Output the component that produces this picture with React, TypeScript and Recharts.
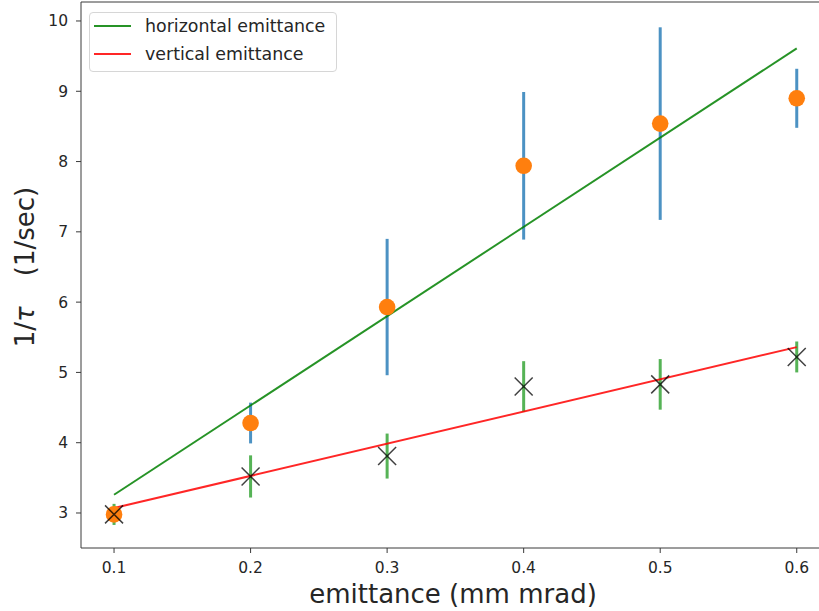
import React from 'react'
import {
  ComposedChart,
  Scatter,
  Line,
  XAxis,
  YAxis,
  ErrorBar,
  ReferenceLine,
  Legend,
  Label,
} from 'recharts'

const emittance = [0.1, 0.2, 0.3, 0.4, 0.5, 0.6]
const horizontalRate = [2.98, 4.28, 5.93, 7.94, 8.54, 8.9]
const horizontalErr = [0.05, 0.29, 0.97, 1.05, 1.37, 0.42]
const verticalRate = [2.98, 3.52, 3.81, 4.8, 4.83, 5.22]
const verticalErr = [0.15, 0.3, 0.32, 0.36, 0.36, 0.22]

const fitX = [0.1, 0.6]
const horizontalFit = [3.26, 9.61]
const verticalFit = [3.07, 5.36]

const xTicks = [0.1, 0.2, 0.3, 0.4, 0.5, 0.6]
const yTicks = [3, 4, 5, 6, 7, 8, 9, 10]

const X_MIN = 0.0758
const X_MAX = 0.6163
const Y_MIN = 2.502
const Y_MAX = 10.27

const FONT = '"DejaVu Sans", sans-serif'
const AXIS = '#3a3a3a'
const TEXT = '#262626'

const hPoints = emittance.map((x, i) => ({ x, y: horizontalRate[i], err: horizontalErr[i] }))
const vPoints = emittance.map((x, i) => ({ x, y: verticalRate[i], err: verticalErr[i] }))
const hFitLine = fitX.map((x, i) => ({ x, y: horizontalFit[i] }))
const vFitLine = fitX.map((x, i) => ({ x, y: verticalFit[i] }))

const legendItems = [
  { label: 'horizontal emittance', color: 'rgba(0,128,0,0.85)' },
  { label: 'vertical emittance', color: 'rgba(255,0,0,0.85)' },
]

function NoShape() {
  return <g />
}

function Dot(props: { cx?: number; cy?: number }) {
  const { cx, cy } = props
  if (cx == null || cy == null) return null
  return <circle cx={cx} cy={cy} r={8.3} fill="#ff7f0e" />
}

function Cross(props: { cx?: number; cy?: number }) {
  const { cx, cy } = props
  if (cx == null || cy == null) return null
  const s = 9
  return (
    <path
      d={`M${cx - s},${cy - s}L${cx + s},${cy + s}M${cx - s},${cy + s}L${cx + s},${cy - s}`}
      stroke="#000"
      strokeOpacity={0.75}
      strokeWidth={1.5}
      fill="none"
    />
  )
}

function LegendBox() {
  return (
    <div
      style={{
        position: 'relative',
        width: 248,
        height: 60,
        boxSizing: 'border-box',
        border: '1px solid #d6d6d6',
        borderRadius: 4,
        background: 'rgba(255,255,255,0.8)',
        fontFamily: FONT,
        fontSize: 17.4,
        color: TEXT,
      }}
    >
      {legendItems.map((item, i) => (
        <div key={item.label}>
          <div
            style={{
              position: 'absolute',
              left: 4,
              top: 12 + i * 28,
              width: 37,
              height: 2,
              background: item.color,
            }}
          />
          <div
            style={{
              position: 'absolute',
              left: 55,
              top: 1 + i * 28,
              lineHeight: '24px',
              whiteSpace: 'nowrap',
            }}
          >
            {item.label}
          </div>
        </div>
      ))}
    </div>
  )
}

export default function App() {
  return (
    <div style={{ position: 'absolute', left: 0, top: 0, background: '#fff' }}>
      <ComposedChart width={819} height={611} margin={{ top: 2, right: 0, bottom: 0, left: 0 }}>
        <XAxis
          type="number"
          dataKey="x"
          domain={[X_MIN, X_MAX]}
          ticks={xTicks}
          allowDataOverflow
          tickFormatter={(v: number) => v.toFixed(1)}
          height={63}
          tickSize={5}
          tickMargin={9}
          stroke={AXIS}
          tick={{ fill: TEXT, fontSize: 15.5, fontFamily: FONT }}
        >
          <Label
            content={() => (
              <text x={453} y={603} textAnchor="middle" fontSize={26} fontFamily={FONT} fill={TEXT}>
                emittance (mm mrad)
              </text>
            )}
          />
        </XAxis>
        <YAxis
          type="number"
          dataKey="y"
          domain={[Y_MIN, Y_MAX]}
          ticks={yTicks}
          allowDataOverflow
          width={81}
          tickSize={5}
          tickMargin={8}
          stroke={AXIS}
          tick={{ fill: TEXT, fontSize: 15.5, fontFamily: FONT }}
        >
          <Label
            content={() => (
              <text
                transform="translate(34,267) rotate(-90)"
                textAnchor="middle"
                fontSize={26}
                fontFamily={FONT}
                fill={TEXT}
              >
                <tspan>1/</tspan>
                <tspan fontStyle="italic">τ</tspan>
                <tspan dx={30}>(1/sec)</tspan>
              </text>
            )}
          />
        </YAxis>
        <ReferenceLine y={Y_MAX} stroke={AXIS} ifOverflow="visible" />

        <Scatter data={hPoints} shape={NoShape} isAnimationActive={false}>
          <ErrorBar dataKey="err" direction="y" width={0} stroke="#4c92c3" strokeWidth={3} isAnimationActive={false} />
        </Scatter>
        <Scatter data={vPoints} shape={NoShape} isAnimationActive={false}>
          <ErrorBar dataKey="err" direction="y" width={0} stroke="#56b356" strokeWidth={3} isAnimationActive={false} />
        </Scatter>

        <Line
          data={hFitLine}
          dataKey="y"
          type="linear"
          stroke="#008000"
          strokeOpacity={0.85}
          strokeWidth={2}
          dot={false}
          activeDot={false}
          isAnimationActive={false}
        />
        <Line
          data={vFitLine}
          dataKey="y"
          type="linear"
          stroke="#ff0000"
          strokeOpacity={0.85}
          strokeWidth={2}
          dot={false}
          activeDot={false}
          isAnimationActive={false}
        />

        <Scatter data={hPoints} shape={Dot} isAnimationActive={false} />
        <Scatter data={vPoints} shape={Cross} isAnimationActive={false} />

        <Legend
          layout="horizontal"
          verticalAlign="middle"
          align="center"
          wrapperStyle={{ left: 89, top: 12, width: 248, height: 60 }}
          content={() => <LegendBox />}
        />
      </ComposedChart>
    </div>
  )
}
